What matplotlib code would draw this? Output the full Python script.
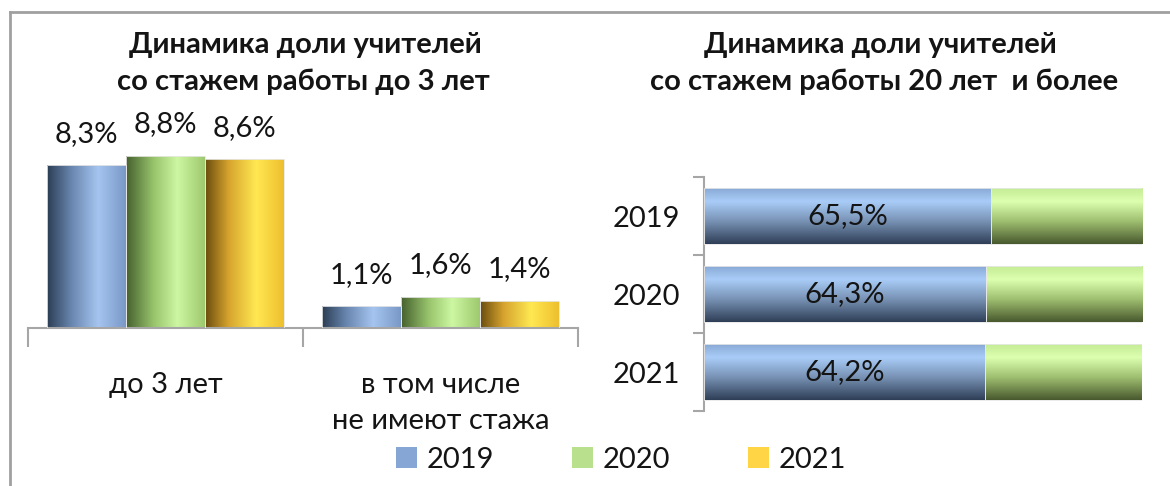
import numpy as np
import matplotlib
matplotlib.use('Agg')
import matplotlib.pyplot as plt
from matplotlib.colors import LinearSegmentedColormap
from matplotlib.patches import Patch
from matplotlib.lines import Line2D

plt.rcParams['font.family'] = ['Lato', 'DejaVu Sans']

# data
years = ['2019', '2020', '2021']
groups = ['до 3 лет', 'в том числе\nне имеют стажа']
share_2019 = [8.3, 1.1]
share_2020 = [8.8, 1.6]
share_2021 = [8.6, 1.4]
senior_share = [65.5, 64.3, 64.2]   # 20 лет и более
rest_share = [34.5, 35.7, 35.8]

TXT = '#141414'
AX_C = '#a6a6a6'
FS = 21

# horizontal gradients for the column bars (left -> right)
col_cmaps = [
    LinearSegmentedColormap.from_list('b', [(0, '#2c3d54'), (0.3, '#6784ad'), (0.65, '#a5c5f0'), (1, '#7a98c6')]),
    LinearSegmentedColormap.from_list('g', [(0, '#46602e'), (0.35, '#98c46c'), (0.65, '#cdf7a2'), (1, '#9ec96e')]),
    LinearSegmentedColormap.from_list('y', [(0, '#6a4c0e'), (0.3, '#d6a42e'), (0.65, '#ffe852'), (1, '#eebf2e')]),
]
# vertical gradients for the stacked bars (top -> bottom)
row_cmaps = [
    LinearSegmentedColormap.from_list('hb', [(0, '#86a6d2'), (0.25, '#a9cdf8'), (0.6, '#7892b4'), (1, '#2e3e56')]),
    LinearSegmentedColormap.from_list('hg', [(0, '#c2ea92'), (0.25, '#dcffb0'), (0.6, '#9fbf70'), (1, '#48582e')]),
]
grad = np.linspace(0, 1, 256)


def fill_gradient(ax, patch, cmap, horizontal):
    x0, y0 = patch.get_x(), patch.get_y()
    w, h = patch.get_width(), patch.get_height()
    img = grad.reshape(1, -1) if horizontal else grad.reshape(-1, 1)
    im = ax.imshow(img, cmap=cmap, aspect='auto', extent=(x0, x0 + w, y0, y0 + h),
                   origin='lower', zorder=2, interpolation='bicubic')
    im.set_clip_path(patch)


fig = plt.figure(figsize=(11.7, 4.86), dpi=100)

# border of the original picture
fig.add_artist(Line2D([9.5 / 1170, 1], [1 - 12.5 / 486] * 2, color='#a0a0a0', lw=2))
fig.add_artist(Line2D([9.5 / 1170] * 2, [0, 1 - 12.5 / 486], color='#a0a0a0', lw=2))

# ---- left chart
ax1 = fig.add_axes([28 / 1170, 1 - 328 / 486, 550 / 1170, 196 / 486])
x = np.arange(len(groups))
bw = 0.287
for i, vals in enumerate([share_2019, share_2020, share_2021]):
    bars = ax1.bar(x + (i - 1) * bw, vals, bw, facecolor='none', edgecolor='#e8e8e8', lw=0.6, zorder=3)
    for b, v in zip(bars, vals):
        fill_gradient(ax1, b, col_cmaps[i], True)
        ax1.text(b.get_x() + bw / 2, v + 0.95, f'{v:.1f}%'.replace('.', ','),
                 ha='center', va='bottom', fontsize=FS, color=TXT)
ax1.set_xlim(-0.5, 1.5)
ax1.set_ylim(0, 10)
for s in ['top', 'right', 'left']:
    ax1.spines[s].set_visible(False)
ax1.spines['bottom'].set_color(AX_C)
ax1.spines['bottom'].set_linewidth(1.5)
ax1.set_yticks([])
ax1.set_xticks(x)
ax1.set_xticklabels(groups, fontsize=FS, color=TXT, linespacing=1.45)
ax1.tick_params(axis='x', which='major', length=0, pad=32)
ax1.set_xticks([-0.5, 0.5, 1.5], minor=True)
ax1.tick_params(axis='x', which='minor', length=14, width=1.5, color=AX_C)

fig.text(305 / 1170, 1 - 45 / 486, 'Динамика доли учителей', ha='center', va='center',
         fontsize=FS, fontweight='bold', color=TXT)
fig.text(303 / 1170, 1 - 82 / 486, 'со стажем работы до 3 лет', ha='center', va='center',
         fontsize=FS, fontweight='bold', color=TXT)

# ---- right chart
ax2 = fig.add_axes([704 / 1170, 1 - 411 / 486, 438 / 1170, 234 / 486])
y = np.arange(len(years))
bh = 0.73
b1 = ax2.barh(y, senior_share, bh, facecolor='none', edgecolor='#e8e8e8', lw=0.6, zorder=3)
b2 = ax2.barh(y, rest_share, bh, left=senior_share, facecolor='none', edgecolor='#e8e8e8', lw=0.6, zorder=3)
for b in b1:
    fill_gradient(ax2, b, row_cmaps[0], False)
for b in b2:
    fill_gradient(ax2, b, row_cmaps[1], False)
for yi, v in zip(y, senior_share):
    ax2.text(v / 2, yi, f'{v:.1f}%'.replace('.', ','), ha='center', va='center',
             fontsize=FS, color=TXT, zorder=4)
ax2.set_xlim(0, 100)
ax2.set_ylim(2.5, -0.5)
for s in ['top', 'right', 'bottom']:
    ax2.spines[s].set_visible(False)
ax2.spines['left'].set_color(AX_C)
ax2.spines['left'].set_linewidth(1.5)
ax2.set_xticks([])
ax2.set_yticks(y)
ax2.set_yticklabels(years, fontsize=FS, color=TXT)
ax2.tick_params(axis='y', which='major', length=0, pad=17)
ax2.set_yticks([-0.5, 0.5, 1.5, 2.5], minor=True)
ax2.tick_params(axis='y', which='minor', length=8, width=1.5, color=AX_C)

fig.text(880 / 1170, 1 - 45 / 486, 'Динамика доли учителей', ha='center', va='center',
         fontsize=FS, fontweight='bold', color=TXT)
fig.text(884 / 1170, 1 - 82 / 486, 'со стажем работы 20 лет  и более', ha='center', va='center',
         fontsize=FS, fontweight='bold', color=TXT)

# ---- legend
handles = [Patch(facecolor=c, edgecolor='none') for c in ['#86a6d6', '#b9e08c', '#ffd445']]
fig.legend(handles, years, loc='center', bbox_to_anchor=(621 / 1170, 1 - 460 / 486), ncol=3,
           frameon=False, fontsize=FS, handlelength=0.72, handleheight=0.72, handletextpad=0.35,
           columnspacing=2.65, labelcolor=TXT)

fig.savefig('out.png', dpi=100)
